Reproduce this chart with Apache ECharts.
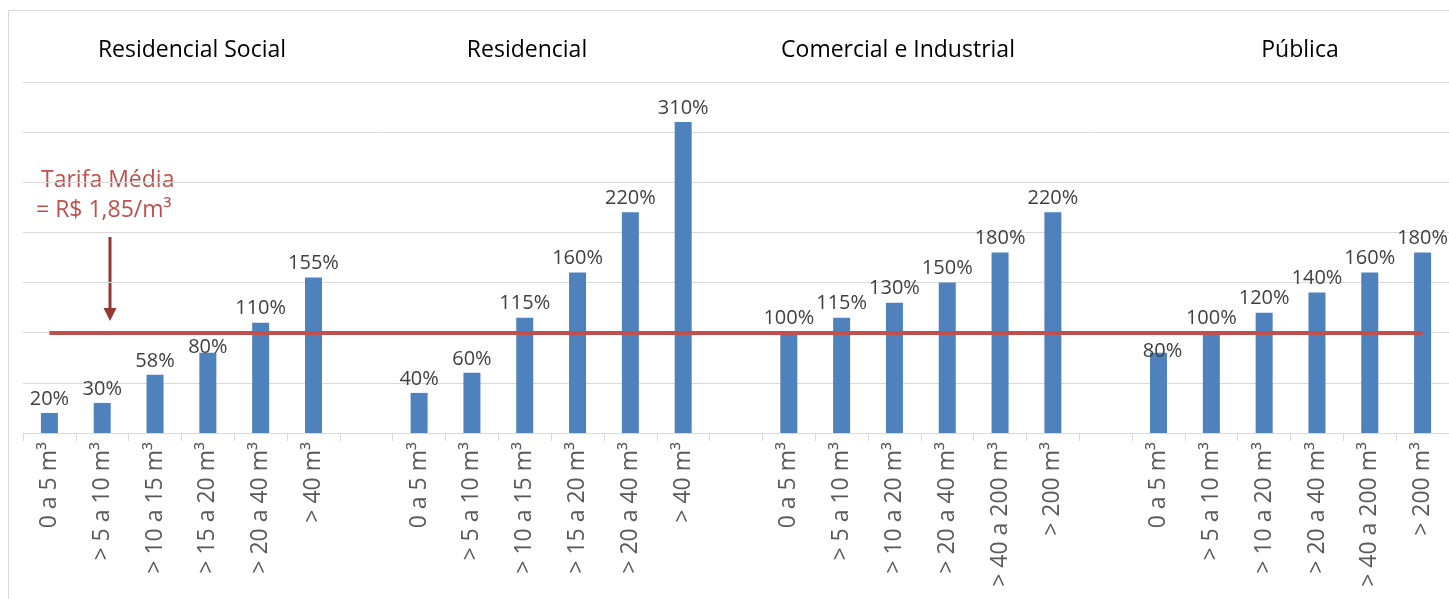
<!DOCTYPE html>
<html>
<head>
<meta charset="utf-8">
<script src="https://cdn.jsdelivr.net/npm/echarts@6/dist/echarts.min.js"></script>
<style>
  html, body { margin: 0; padding: 0; background: #ffffff; }
  #chart { width: 1449px; height: 599px; }
</style>
</head>
<body>
<div id="chart"></div>
<script>
// Consumption groups (titles above each block of bars)
const groupNames = ['Residencial Social', 'Residencial', 'Comercial e Industrial', 'Pública'];

// Consumption bands per group
const faixasResidenciais = ['0 a 5 m³', '> 5 a 10 m³', '> 10 a 15 m³', '> 15 a 20 m³', '> 20 a 40 m³', '> 40 m³'];
const faixasNaoResidenciais = ['0 a 5 m³', '> 5 a 10 m³', '> 10 a 20 m³', '> 20 a 40 m³', '> 40 a 200 m³', '> 200 m³'];

// Tariff of each band as a percentage of the average tariff
const residencialSocial = [20, 30, 58, 80, 110, 155];
const residencial = [40, 60, 115, 160, 220, 310];
const comercialIndustrial = [100, 115, 130, 150, 180, 220];
const publica = [80, 100, 120, 140, 160, 180];

// Average tariff reference (100 %)
const tarifaMedia = 100;
const tarifaMediaTexto = ['Tarifa Média', '= R$ 1,85/m³'];

const groups = [
  { bands: faixasResidenciais, values: residencialSocial },
  { bands: faixasResidenciais, values: residencial },
  { bands: faixasNaoResidenciais, values: comercialIndustrial },
  { bands: faixasNaoResidenciais, values: publica }
];

// Flatten groups into one category axis with an empty slot between groups
const categories = [];
const values = [];
groups.forEach((g, gi) => {
  if (gi > 0) { categories.push(''); values.push(null); }
  g.bands.forEach((b, i) => { categories.push(b); values.push(g.values[i]); });
});

// A couple of labels sit lower so they clear the average-tariff line
const labelNudges = { 3: [0, 9], 21: [4, 13] };

const barData = values.map((v, i) => {
  if (v == null) return null;
  const item = { value: v };
  if (labelNudges[i]) item.label = { offset: labelNudges[i] };
  return item;
});

const BLUE = '#4F81BD';
const RED = '#C0504D';
const DARK_RED = '#953735';
const FONT = '"Open Sans", "Noto Sans", sans-serif';

const chart = echarts.init(document.getElementById('chart'), null, { renderer: 'canvas' });

const titleCenters = [192, 527, 898, 1300];

chart.setOption({
  animation: false,
  backgroundColor: '#ffffff',
  grid: { left: 23, right: -3, top: 82, bottom: 166, containLabel: false },
  xAxis: {
    type: 'category',
    data: categories,
    boundaryGap: true,
    axisLine: { show: true, lineStyle: { color: '#d9d9d9', width: 1 } },
    axisTick: { show: true, interval: 0, length: 8, lineStyle: { color: '#d9d9d9' } },
    axisLabel: {
      interval: 0,
      rotate: 90,
      margin: 9,
      fontSize: 23,
      color: '#595959',
      fontFamily: FONT
    },
    splitLine: { show: false }
  },
  yAxis: {
    type: 'value',
    min: 0,
    max: 350,
    interval: 50,
    axisLine: { show: false },
    axisTick: { show: false },
    axisLabel: { show: false },
    splitLine: { show: true, lineStyle: { color: '#d9d9d9', width: 1 } }
  },
  series: [
    {
      type: 'bar',
      data: barData,
      barWidth: 17,
      itemStyle: { color: BLUE },
      label: {
        show: true,
        position: 'top',
        distance: 4,
        formatter: (p) => p.value + '%',
        fontSize: 20,
        color: '#404040',
        fontFamily: FONT
      },
      markLine: {
        silent: true,
        symbol: ['none', 'none'],
        label: { show: false },
        lineStyle: { color: RED, width: 4, type: 'solid' },
        data: [[
          { coord: [0, tarifaMedia] },
          { coord: [categories.length - 1, tarifaMedia] }
        ]],
        z: 5
      }
    }
  ],
  graphic: [
    // chart area frame
    {
      type: 'rect',
      shape: { x: 8.5, y: 10.5, width: 1600, height: 800 },
      style: { fill: 'none', stroke: '#d9d9d9', lineWidth: 1 },
      silent: true, z: -1
    },
    // group titles
    ...groupNames.map((name, i) => ({
      type: 'text',
      x: titleCenters[i],
      y: 50,
      style: {
        text: name,
        fill: '#000000',
        font: '23px ' + FONT,
        textAlign: 'center',
        textVerticalAlign: 'middle',
        shadowColor: 'rgba(0,0,0,0.25)',
        shadowBlur: 2,
        shadowOffsetX: 1,
        shadowOffsetY: 1
      },
      silent: true
    })),
    // average tariff annotation
    {
      type: 'text',
      x: 41, y: 180,
      style: {
        text: tarifaMediaTexto[0],
        fill: RED,
        font: '23px ' + FONT,
        textVerticalAlign: 'middle'
      },
      silent: true
    },
    {
      type: 'text',
      x: 36, y: 210,
      style: {
        text: tarifaMediaTexto[1],
        fill: RED,
        font: '23px ' + FONT,
        textVerticalAlign: 'middle'
      },
      silent: true
    },
    {
      type: 'line',
      shape: { x1: 110, y1: 237, x2: 110, y2: 310 },
      style: { stroke: DARK_RED, lineWidth: 3 },
      silent: true
    },
    {
      type: 'polygon',
      shape: { points: [[103.5, 308], [116.5, 308], [110, 321]] },
      style: { fill: DARK_RED },
      silent: true
    }
  ]
});
</script>
</body>
</html>
